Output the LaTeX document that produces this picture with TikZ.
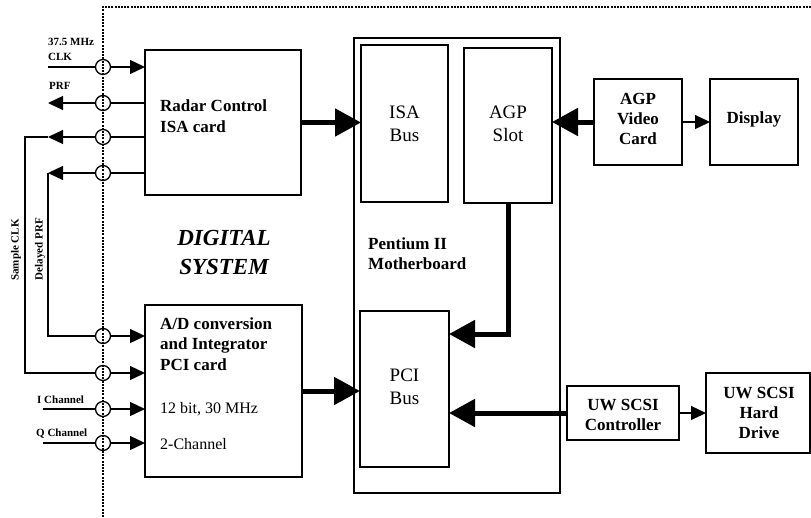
\documentclass[tikz,border=0pt]{standalone}
\usepackage{fontspec}
\setmainfont{Liberation Serif}
\usetikzlibrary{arrows.meta,calc}
\begin{document}
\begin{tikzpicture}[x=1pt,y=-1pt,
  box/.style={draw,line width=1.3pt,inner sep=0pt,outer sep=0pt},
  port/.style={circle,draw,fill=white,line width=1.3pt,minimum size=15pt,inner sep=0pt},
  thinarr/.style={line width=1.3pt,-{Triangle[length=15pt,width=14pt]}},
  thickarr/.style={line width=5pt,-{Triangle[length=26pt,width=27pt]}},
  frame/.style={line width=1.3pt,dash pattern=on 2pt off 1.2pt},
  bigb/.style={font=\fontsize{17}{20.5}\selectfont\bfseries,align=left,inner sep=0pt},
  bigc/.style={font=\fontsize{17}{20}\selectfont\bfseries,align=center,inner sep=0pt},
  bus/.style={font=\fontsize{19}{23}\selectfont,align=center,inner sep=0pt},
  reg/.style={font=\fontsize{16}{19}\selectfont,inner sep=0pt},
  small/.style={font=\fontsize{11}{13}\selectfont\bfseries,inner sep=0pt},
  title/.style={font=\fontsize{23}{29}\selectfont\bfseries\itshape,align=center,inner sep=0pt}
]
\useasboundingbox (0,0) rectangle (811,517);

% boxes
\node[box,minimum width=156pt,minimum height=145pt] (radar) at (223,122.5) {};
\node[box,minimum width=157pt,minimum height=172pt] (ad) at (223.5,391) {};
\node[box,minimum width=206pt,minimum height=455pt] (mb) at (457,265.5) {};
\node[box,minimum width=87pt,minimum height=157pt] (isa) at (404.5,123.5) {};
\node[box,minimum width=88pt,minimum height=155pt] (agps) at (508,125.5) {};
\node[box,minimum width=89pt,minimum height=156pt] (pci) at (404.5,389) {};
\node[box,minimum width=88pt,minimum height=86pt] (agpv) at (638,122) {};
\node[box,minimum width=88pt,minimum height=86pt] (disp) at (754,122) {};
\node[box,minimum width=112pt,minimum height=54pt] (uw) at (623,413) {};
\node[box,minimum width=104pt,minimum height=80pt] (hd) at (758,413) {};

% texts
\node[bigb,anchor=west] (radartxt) at (160,116) {Radar Control\\ISA card};
\node[bigb,anchor=west] (adtxt) at (160,344) {A/D conversion\\and Integrator\\PCI card};
\node[reg,anchor=west] (adbit) at (160,409) {12 bit, 30 MHz};
\node[reg,anchor=west] (adch) at (160,444) {2-Channel};
\node[bigb,anchor=west] (mbtxt) at (368,253.5) {Pentium II\\Motherboard};
\node[title] (dstxt) at (224,252) {DIGITAL\\SYSTEM};
\node[bus] (isatxt) at (404.5,123.5) {ISA\\Bus};
\node[bus] (agpstxt) at (508,124) {AGP\\Slot};
\node[bus] (pcitxt) at (404.5,387) {PCI\\Bus};
\node[bigc] (agpvtxt) at (638,118.5) {AGP\\Video\\Card};
\node[bigc] (disptxt) at (754,119) {Display};
\node[bigc] (uwtxt) at (623,414.5) {UW SCSI\\Controller};
\node[bigc] (hdtxt) at (759,413) {UW SCSI\\Hard\\Drive};

% small labels
\node[small,anchor=base west] (l1) at (48,45) {37.5 MHz};
\node[small,anchor=base west] (l2) at (48,60) {CLK};
\node[small,anchor=base west] (l3) at (49,89) {PRF};
\node[small,anchor=base west] (l4) at (37,403) {I Channel};
\node[small,anchor=base west] (l5) at (36,436) {Q Channel};
\node[small,rotate=90] (l6) at (16,250) {Sample CLK};
\node[small,rotate=90] (l7) at (40,249) {Delayed PRF};

% thin signal connectors
\coordinate (clk) at (48,67);
\coordinate (prf) at (48,103);
\coordinate (sc) at (48,137);
\coordinate (scl) at (25,137);
\coordinate (scb) at (25,373);
\coordinate (dp) at (48,173);
\coordinate (dpb) at (48,336);
\coordinate (ich) at (43,409);
\coordinate (qch) at (43,443);
\draw[thinarr] (clk) -- (clk -| radar.west);
\draw[thinarr] (prf -| radar.west) -- (prf);
\draw[thinarr] (sc -| radar.west) -- (sc);
\draw[thinarr] (sc) -- (scl) -- (scb) -- (scb -| ad.west);
\draw[thinarr] (dp -| radar.west) -- (dp);
\draw[thinarr] (dp) -- (dpb) -- (dpb -| ad.west);
\draw[thinarr] (ich) -- (ich -| ad.west);
\draw[thinarr] (qch) -- (qch -| ad.west);
\draw[thinarr] (agpv.east) -- (agpv.east -| disp.west);
\draw[thinarr] (uw.east) -- (uw.east -| hd.west);

% thick bus connectors
\coordinate (agpbend) at (508,334);
\draw[thickarr] (radar.east) -- (radar.east -| isa.west);
\draw[thickarr] (agpv.west) -- (agpv.west -| agps.east);
\draw[thickarr] (agps.south) -- (agpbend) -- (agpbend -| pci.east);
\draw[thickarr] (ad.east) -- (ad.east -| pci.west);
\draw[thickarr] (uw.west) -- (uw.west -| pci.east);

% ports on the boundary
\node[port] (p1) at (103,67) {};
\node[port] (p2) at (103,103) {};
\node[port] (p3) at (103,137) {};
\node[port] (p4) at (103,173) {};
\node[port] (p5) at (103,336) {};
\node[port] (p6) at (103,373) {};
\node[port] (p7) at (103,409) {};
\node[port] (p8) at (103,443) {};

% dotted boundary
\coordinate (fr1) at (811,7);
\coordinate (fr2) at (103,7);
\coordinate (fr3) at (103,517);
\draw[frame] (fr1) -- (fr2) -- (fr3);
\end{tikzpicture}
\end{document}
